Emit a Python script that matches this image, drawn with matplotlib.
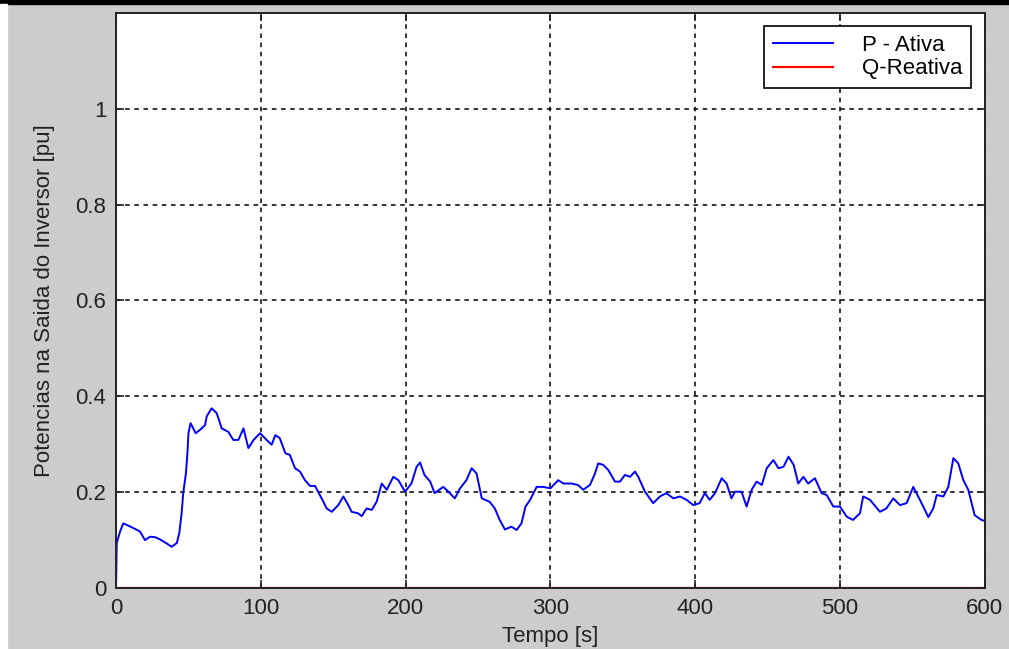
import numpy as np
import matplotlib
matplotlib.use("Agg")
import matplotlib.pyplot as plt
from matplotlib.patches import Rectangle

plt.rcParams['font.family'] = ['Liberation Sans', 'DejaVu Sans']

# tempo [s] e potencia ativa [pu]
t = [0, 0.5, 2.8, 5, 12, 16.5, 20, 23.5, 27, 30, 35, 38.4, 42, 43.7, 45.3,
     46.4, 48.3, 49.3, 50, 51.5, 55, 58, 61.5, 62.6, 66, 69.5, 73, 77.5, 81,
     84.5, 88, 91.4, 95, 99.5, 104, 107.5, 110, 113, 117, 120, 123.6, 127,
     130.5, 134, 137.4, 142, 145.5, 149, 153.5, 157, 160.4, 162.7, 167, 169.7,
     173, 176.6, 180, 183.5, 187, 191.5, 195, 199.6, 204, 207.6, 210, 213, 217,
     220, 226, 229.5, 234, 237.6, 242, 245.6, 249, 252.6, 258, 261.6, 265,
     268.6, 273, 276.7, 280, 282.8, 286, 290.5, 295, 300, 305.4, 309, 314.6,
     319, 322.7, 327.3, 330.8, 333, 336.5, 340, 344.6, 348, 351.5, 355, 358.4,
     360.7, 365.3, 371, 375.7, 380, 385, 389.5, 394, 398.7, 403, 406.7, 410,
     413.7, 418.3, 421.7, 425, 427.5, 432, 435.5, 439, 442.4, 446, 449.4, 454,
     457.5, 461, 464.4, 468, 471.2, 474.7, 478, 482.7, 487.3, 490.8, 495.4,
     500, 504.6, 509, 513.8, 516, 520.7, 527.6, 532, 536.8, 541.4, 546, 550.6,
     555.2, 561, 564.4, 566.8, 571.4, 574.8, 578.3, 581.7, 585.2, 588.6, 593,
     597.7, 600]
p_ativa = [0, 0.094, 0.118, 0.135, 0.125, 0.118, 0.100, 0.107, 0.106, 0.102,
           0.093, 0.086, 0.094, 0.115, 0.156, 0.198, 0.240, 0.281, 0.323, 0.344,
           0.323, 0.330, 0.340, 0.358, 0.375, 0.365, 0.333, 0.326, 0.309, 0.309,
           0.333, 0.292, 0.309, 0.323, 0.309, 0.299, 0.319, 0.313, 0.281, 0.278,
           0.250, 0.243, 0.225, 0.213, 0.213, 0.187, 0.166, 0.159, 0.173, 0.191,
           0.173, 0.159, 0.156, 0.150, 0.166, 0.163, 0.180, 0.218, 0.205, 0.232,
           0.225, 0.201, 0.218, 0.253, 0.262, 0.236, 0.222, 0.198, 0.211, 0.201,
           0.187, 0.208, 0.225, 0.250, 0.239, 0.187, 0.180, 0.166, 0.142, 0.122,
           0.128, 0.121, 0.135, 0.170, 0.184, 0.211, 0.211, 0.208, 0.225, 0.218,
           0.218, 0.215, 0.205, 0.215, 0.239, 0.260, 0.257, 0.246, 0.222, 0.222,
           0.236, 0.232, 0.243, 0.232, 0.201, 0.177, 0.191, 0.198, 0.187, 0.191,
           0.184, 0.173, 0.177, 0.198, 0.184, 0.198, 0.229, 0.218, 0.187, 0.201,
           0.201, 0.170, 0.205, 0.222, 0.215, 0.250, 0.267, 0.250, 0.253, 0.274,
           0.257, 0.218, 0.232, 0.218, 0.229, 0.198, 0.194, 0.170, 0.170, 0.149,
           0.142, 0.156, 0.191, 0.184, 0.159, 0.166, 0.187, 0.173, 0.177, 0.211,
           0.184, 0.148, 0.166, 0.194, 0.191, 0.211, 0.271, 0.260, 0.225, 0.205,
           0.152, 0.142, 0.140]
# potencia reativa [pu] ~ zero
t_q = [0, 600]
q_reativa = [0, 0]

x_ticks = [0, 100, 200, 300, 400, 500, 600]
y_ticks = [0, 0.2, 0.4, 0.6, 0.8, 1.0]
y_tick_labels = ['0', '0.2', '0.4', '0.6', '0.8', '1']

fig = plt.figure(figsize=(10.09, 6.49), dpi=100, facecolor='#cccccc')
ax = fig.add_axes([0.115, 0.094, 0.861, 0.886])

ax.plot(t, p_ativa, color='#0000ff', lw=1.4, label='P - Ativa')
ax.plot(t_q, q_reativa, color='#ff0000', lw=1.6, label='Q-Reativa')

ax.set_xlim(0, 600)
ax.set_ylim(0, 1.2)
ax.set_xticks(x_ticks)
ax.set_yticks(y_ticks)
ax.set_yticklabels(y_tick_labels)
ax.tick_params(direction='in', top=True, right=True, length=6, width=1.2,
               labelsize=16, colors='#222222', pad=7)

ax.grid(True, color='black', linestyle=(0, (3, 3)), lw=1.1)

for s in ax.spines.values():
    s.set_linewidth(1.4)
    s.set_color('#222222')

ax.set_xlabel('Tempo [s]', fontsize=16, labelpad=5, color='#222222')
ax.set_ylabel('Potencias na Saida do Inversor [pu]', fontsize=16,
              labelpad=15, color='#222222')

leg = ax.legend(loc='upper right', fontsize=16, fancybox=False, framealpha=1,
                edgecolor='black', borderaxespad=0.6, handlelength=2.7,
                handletextpad=1.3, borderpad=0.4, labelspacing=0.1)
leg.get_frame().set_linewidth(1.2)

# bordas da captura de tela
fig.add_artist(Rectangle((0, 1 - 4 / 649), 1, 4 / 649, transform=fig.transFigure,
                         color='black', zorder=0))
fig.add_artist(Rectangle((0, 0), 7 / 1009, 1 - 4 / 649, transform=fig.transFigure,
                         color='white', zorder=0))

fig.savefig('out.png', dpi=100, facecolor=fig.get_facecolor())
